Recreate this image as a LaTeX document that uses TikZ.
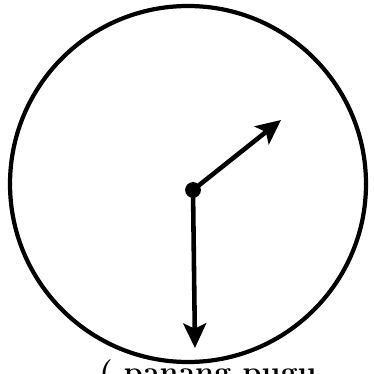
\documentclass[tikz,border=0pt]{standalone}
\usetikzlibrary{positioning,arrows.meta}

\begin{document}
\begin{tikzpicture}[x=0.02cm,y=-0.02cm,
  % Node Styles
  hub/.style={circle, fill=black, inner sep=0pt, minimum size=9pt},
  caption/.style={font=\LARGE\bfseries, anchor=base},
  % Arrow Styles
  handarrow/.style={-{Stealth[length=14pt,width=13pt,inset=3pt]}, line width=2.6pt},
]
\useasboundingbox (0,0) rectangle (373,374);

% Clock face
\node[circle, draw, line width=2.4pt, minimum size=356*0.02cm, inner sep=0pt] (face) at (188,184) {};

\node[hub] (centre) at (193,190) {};
\coordinate (minute) at (281,120);
\coordinate (hour) at (195,348);

\draw[handarrow] (centre.center) -- (minute);
\draw[handarrow] (centre.center) -- (hour);

\node[caption] (label) at (208,382) {( panang pugu};

\end{tikzpicture}
\end{document}
